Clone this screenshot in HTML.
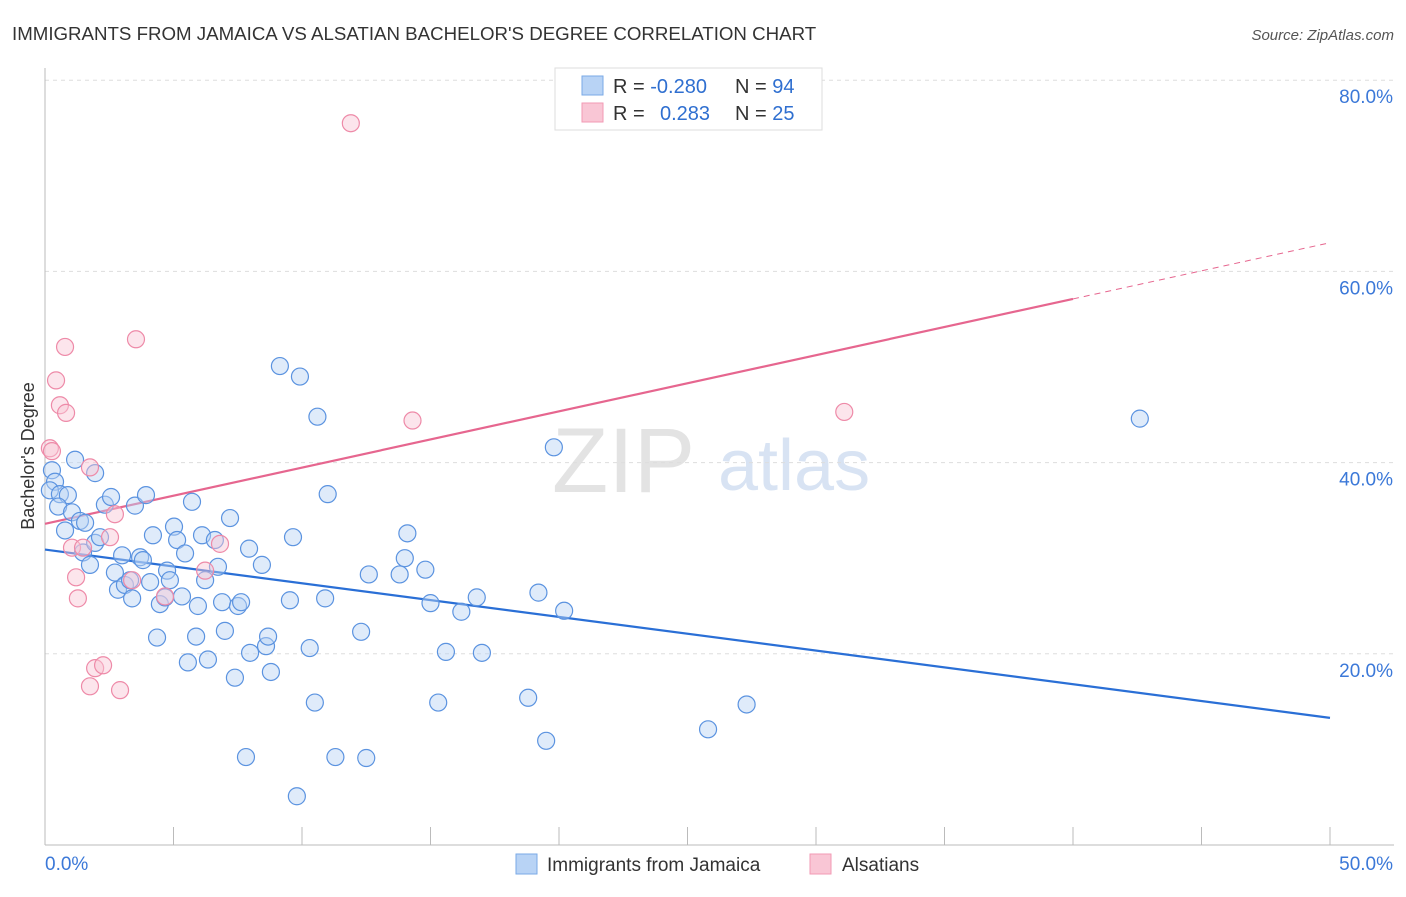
<!DOCTYPE html>
<html><head><meta charset="utf-8"><style>
body{margin:0;background:#fff;font-family:"Liberation Sans",sans-serif;}
svg text{font-family:"Liberation Sans",sans-serif;}
</style></head><body>
<svg id="chart" width="1406" height="892" xmlns="http://www.w3.org/2000/svg">
<text x="12" y="40" font-size="18.7" fill="#333">IMMIGRANTS FROM JAMAICA VS ALSATIAN BACHELOR'S DEGREE CORRELATION CHART</text>
<text x="1394" y="40" font-size="15" fill="#555" text-anchor="end" font-style="italic">Source: ZipAtlas.com</text>
<g>
<text x="552" y="492" font-size="92" fill="#ddd" font-family="Liberation Serif" opacity="0.8">ZIP</text>
<text x="718" y="490" font-size="72" fill="#c8d8ef" opacity="0.7">atlas</text>
</g>
<g id="grid"></g>
<g id="axes"></g>
<g id="lines"></g>
<g id="pts"></g>
<text transform="translate(34,456) rotate(-90)" font-size="18" fill="#333" text-anchor="middle">Bachelor's Degree</text>
<g>
<rect x="555" y="68" width="267" height="62" fill="#fff" stroke="#ddd"/>
<rect x="582" y="76" width="21" height="19" fill="#b8d3f5" stroke="#7aaae6"/>
<rect x="582" y="103" width="21" height="19" fill="#f9c6d5" stroke="#f29ab4"/>
<text x="613" y="93" font-size="20" fill="#333">R = <tspan fill="#2f6fd0">-0.280</tspan></text>
<text x="735" y="93" font-size="20" fill="#333">N = <tspan fill="#2f6fd0">94</tspan></text>
<text x="613" y="120" font-size="20" fill="#333">R = <tspan fill="#2f6fd0" x="660">0.283</tspan></text>
<text x="735" y="120" font-size="20" fill="#333">N = <tspan fill="#2f6fd0">25</tspan></text>
</g>
<g>
<rect x="516" y="854" width="21" height="20" fill="#b8d3f5" stroke="#7aaae6"/>
<text x="547" y="871" font-size="19" fill="#333">Immigrants from Jamaica</text>
<rect x="810" y="854" width="21" height="20" fill="#f9c6d5" stroke="#f29ab4"/>
<text x="842" y="871" font-size="19" fill="#333">Alsatians</text>
</g>
</svg>
<script>
const blueX=[0.27,0.39,0.19,0.58,0.89,0.51,0.78,1.17,1.05,1.36,1.56,1.95,1.48,1.75,1.95,2.14,2.33,2.57,2.72,3.0,2.84,3.11,3.31,3.39,3.5,3.7,3.81,3.93,4.09,4.2,4.36,4.47,4.67,4.75,4.86,5.02,5.14,5.33,5.45,5.56,5.72,5.88,5.95,6.11,6.23,6.34,6.61,6.73,6.89,7.0,7.2,7.39,7.51,7.63,7.82,7.94,7.98,8.44,8.6,8.68,8.79,9.14,9.53,9.65,9.8,9.92,10.3,10.5,10.6,10.9,11.0,11.3,12.3,12.5,12.6,13.8,14.0,14.1,14.8,15.0,15.3,15.6,16.2,16.8,17.0,18.8,19.2,19.5,19.8,20.2,25.8,27.3,42.6];
const blueY=[39.2,38.0,37.1,36.7,36.6,35.4,32.9,40.3,34.8,33.9,33.7,38.9,30.6,29.3,31.6,32.2,35.6,36.4,28.5,30.3,26.7,27.2,27.7,25.8,35.5,30.1,29.8,36.6,27.5,32.4,21.7,25.2,25.9,28.7,27.7,33.3,31.9,26.0,30.5,19.1,35.9,21.8,25.0,32.4,27.7,19.4,31.9,29.1,25.4,22.4,34.2,17.5,25.0,25.4,9.2,31.0,20.1,29.3,20.8,21.8,18.1,50.1,25.6,32.2,5.1,49.0,20.6,14.9,44.8,25.8,36.7,9.2,22.3,9.1,28.3,28.3,30.0,32.6,28.8,25.3,14.9,20.2,24.4,25.9,20.1,15.4,26.4,10.9,41.6,24.5,12.1,14.7,44.6];
const pinkX=[0.19,0.27,0.78,0.43,0.58,0.82,1.75,2.72,2.53,1.05,1.48,1.21,1.28,1.95,2.26,1.75,2.92,3.54,3.39,4.67,6.23,6.81,11.9,14.3,31.1];
const pinkY=[41.5,41.2,52.1,48.6,46.0,45.2,39.5,34.6,32.2,31.1,31.1,28.0,25.8,18.5,18.8,16.6,16.2,52.9,27.7,26.0,28.7,31.5,75.5,44.4,45.3];
const blueTrend=[30.9,13.3];
const pinkTrend=[33.6,63.0];
const yTicks=[20,40,60,80];
const yTickLabels=["20.0%","40.0%","60.0%","80.0%"];
const xTicks=[0,5,10,15,20,25,30,35,40,45,50];
const NS='http://www.w3.org/2000/svg';
const X=v=>45+v*25.7, Y=v=>845-v*9.56;
function mk(tag,attrs,parent){const e=document.createElementNS(NS,tag);for(const k in attrs)e.setAttribute(k,attrs[k]);document.getElementById(parent).appendChild(e);return e;}
yTicks.forEach((t,i)=>{
 const g=mk('line',{x1:45,x2:1394,y1:Y(t),y2:Y(t),stroke:'#ddd','stroke-dasharray':'4,4'},'grid');
 
 
 const l=mk('text',{x:1393,y:Y(t)+23,'font-size':19,fill:'#3b78d8','text-anchor':'end'},'axes');
 l.textContent=yTickLabels[i];
 
 
});
let a=mk('line',{x1:45,x2:45,y1:68,y2:845,stroke:'#bbb'},'axes');


a=mk('line',{x1:45,x2:1394,y1:845,y2:845,stroke:'#bbb'},'axes');


xTicks.forEach(t=>{const e=mk('line',{x1:X(t),x2:X(t),y1:827,y2:845,stroke:'#bbb'},'axes');
 
 });
let xl=mk('text',{x:45,y:870,'font-size':19,fill:'#3b78d8'},'axes');xl.textContent='0.0%';


xl=mk('text',{x:1393,y:870,'font-size':19,fill:'#3b78d8','text-anchor':'end'},'axes');xl.textContent='50.0%';


function pts(xs,ys,fill,stroke,name){xs.forEach((x,i)=>{const c=mk('circle',{cx:X(x),cy:Y(ys[i]),r:8.5,fill:fill,'fill-opacity':0.45,stroke:stroke,'stroke-width':1.2},'pts');
 
 });}
pts(blueX,blueY,'#b8d3f5','#5b93e0','jamaica-point');
pts(pinkX,pinkY,'#f9c6d5','#ee8aa8','alsatian-point');
const bl=mk('line',{x1:X(0),y1:Y(blueTrend[0]),x2:X(50),y2:Y(blueTrend[1]),stroke:'#2a6fd6','stroke-width':2.2},'lines');


const pv=x=>pinkTrend[0]+(pinkTrend[1]-pinkTrend[0])*x/50;
const pl=mk('line',{x1:X(0),y1:Y(pv(0)),x2:X(40),y2:Y(pv(40)),stroke:'#e6668f','stroke-width':2.2},'lines');


const pd=mk('line',{x1:X(40),y1:Y(pv(40)),x2:X(50),y2:Y(pv(50)),stroke:'#e6668f','stroke-width':1,'stroke-dasharray':'6,5'},'lines');


</script>
</body></html>
